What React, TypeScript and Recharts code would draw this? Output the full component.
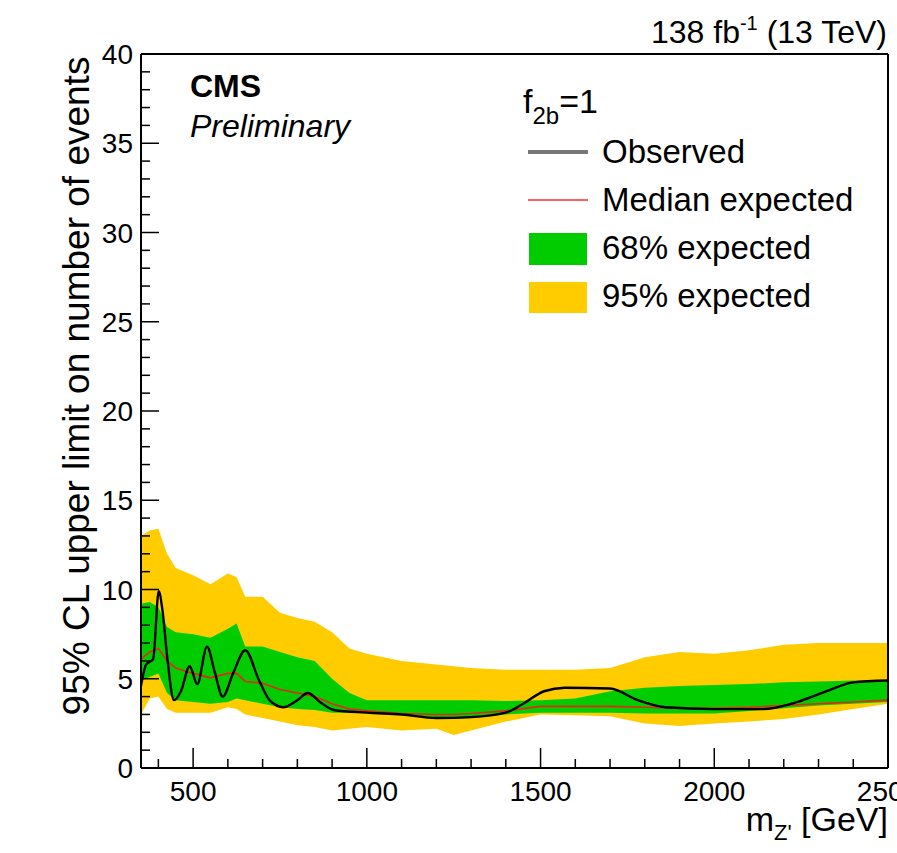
import { Area, ComposedChart, Line, XAxis, YAxis } from "recharts";

// expected-limit grid (GeV) and bands
const masses = [
  350, 375, 400, 425, 450, 500, 550, 600, 625, 650, 700, 750, 800, 850, 900, 950, 1000, 1100, 1200, 1250,
  1300, 1400, 1500, 1600, 1700, 1800, 1900, 2000, 2100, 2200, 2300, 2400, 2500,
];
const exp95Hi = [
  13.0, 13.3, 13.4, 12.0, 11.2, 10.8, 10.3, 10.9, 10.7, 9.6, 9.6, 8.7, 8.4, 8.2, 7.6, 6.7, 6.4, 6.0, 5.8, 5.7,
  5.6, 5.5, 5.5, 5.5, 5.6, 6.2, 6.5, 6.4, 6.6, 6.9, 7.0, 7.0, 7.0,
];
const exp68Hi = [
  9.2, 9.3, 9.0, 7.9, 7.6, 7.5, 7.3, 7.8, 8.1, 6.8, 6.8, 6.5, 6.2, 6.0, 5.0, 4.2, 3.8, 3.8, 3.8, 3.8,
  3.8, 3.75, 3.8, 3.9, 4.3, 4.5, 4.6, 4.65, 4.7, 4.8, 4.85, 4.9, 4.9,
];
const exp68Lo = [
  4.9, 5.1, 5.3, 4.2, 3.8, 3.7, 3.6, 3.7, 3.9, 3.8, 3.6, 3.4, 3.3, 3.25, 3.1, 3.1, 3.05, 3.0, 2.8, 2.75,
  2.8, 3.0, 3.1, 3.1, 3.1, 3.05, 3.05, 3.05, 3.2, 3.35, 3.5, 3.6, 3.7,
];
const exp95Lo = [
  3.0, 3.9, 4.0, 3.3, 3.1, 3.1, 3.1, 3.4, 3.3, 3.0, 2.8, 2.6, 2.4, 2.3, 2.1, 2.2, 2.3, 2.1, 2.2, 1.85,
  2.1, 2.6, 3.0, 2.95, 2.9, 2.5, 2.35, 2.5, 2.6, 2.75, 3.0, 3.3, 3.6,
];
const expMedian = [
  6.1, 6.5, 6.7, 6.0, 5.6, 5.3, 5.05, 5.3, 5.3, 4.85, 4.75, 4.4, 4.2, 4.0, 3.6, 3.3, 3.2, 3.05, 3.0, 3.0,
  3.05, 3.2, 3.45, 3.45, 3.45, 3.4, 3.35, 3.35, 3.4, 3.5, 3.6, 3.7, 3.8,
];

// observed limit
const obsMass = [
  350, 365, 385, 401, 412, 425, 445, 465, 490, 512, 540, 562, 585, 615, 650, 690, 720, 760, 800, 830,
  865, 905, 1000, 1100, 1200, 1300, 1400, 1450, 1510, 1570, 1700, 1780, 1860, 2000, 2140, 2240, 2330, 2400, 2500,
];
const obsLimit = [
  4.6, 5.8, 6.1, 9.9, 8.8, 6.3, 3.8, 4.3, 5.7, 4.7, 6.8, 5.4, 4.0, 5.3, 6.6, 4.9, 3.8, 3.4, 3.8, 4.2,
  3.7, 3.25, 3.1, 3.0, 2.8, 2.85, 3.1, 3.6, 4.3, 4.5, 4.45, 3.8, 3.4, 3.3, 3.3, 3.7, 4.35, 4.8, 4.9,
];

const xTicks = Array.from({ length: 22 }, (_, i) => 400 + i * 100);
const yTicks = Array.from({ length: 41 }, (_, i) => i);

const FONT = "'Liberation Sans', Arial, Helvetica, sans-serif";

const bandData = masses.map((m, i) => ({
  m,
  band95: [exp95Lo[i], exp95Hi[i]],
  band68: [exp68Lo[i], exp68Hi[i]],
  median: expMedian[i],
}));
const obsData = obsMass.map((m, i) => ({ m, obs: obsLimit[i] }));

function LeftTick({ x, y, payload }: any) {
  const major = payload.value % 5 === 0;
  return (
    <g>
      <line x1={x} x2={x + (major ? 18 : 9)} y1={y} y2={y} stroke="#000" strokeWidth={1.5} />
      {major ? (
        <text x={x - 8} y={y + 10} textAnchor="end" fontSize={28} fontFamily={FONT} fill="#000">
          {payload.value}
        </text>
      ) : null}
    </g>
  );
}

function RightTick({ x, y, payload }: any) {
  const major = payload.value % 5 === 0;
  return <line x1={x} x2={x - (major ? 18 : 9)} y1={y} y2={y} stroke="#000" strokeWidth={1.5} />;
}

function BottomTick({ x, y, payload }: any) {
  const major = payload.value % 500 === 0;
  return (
    <g>
      <line x1={x} x2={x} y1={y} y2={y - (major ? 20 : 9)} stroke="#000" strokeWidth={1.5} />
      {major ? (
        <text x={x} y={y + 33} textAnchor="middle" fontSize={28} fontFamily={FONT} fill="#000">
          {payload.value}
        </text>
      ) : null}
    </g>
  );
}

export default function App() {
  return (
    <div style={{ position: "absolute", left: 0, top: 0, width: 897, height: 853, background: "#fff" }}>
      <ComposedChart width={897} height={853} margin={{ top: 0, right: 0, bottom: 0, left: 0 }}>
        <XAxis
          dataKey="m"
          type="number"
          domain={[350, 2500]}
          ticks={xTicks}
          interval={0}
          height={85}
          tickSize={0}
          tickMargin={0}
          tickLine={false}
          tick={<BottomTick />}
          axisLine={{ stroke: "#000", strokeWidth: 2 }}
          allowDataOverflow
        />
        <XAxis
          xAxisId="top"
          orientation="top"
          type="number"
          domain={[350, 2500]}
          height={54}
          tick={false}
          tickLine={false}
          axisLine={{ stroke: "#000", strokeWidth: 2 }}
        />
        <YAxis
          type="number"
          domain={[0, 40]}
          ticks={yTicks}
          interval={0}
          width={141}
          tickSize={0}
          tickMargin={0}
          tickLine={false}
          tick={<LeftTick />}
          axisLine={{ stroke: "#000", strokeWidth: 2 }}
        />
        <YAxis
          yAxisId="right"
          orientation="right"
          type="number"
          domain={[0, 40]}
          ticks={yTicks}
          interval={0}
          width={9}
          tickSize={0}
          tickMargin={0}
          tickLine={false}
          tick={<RightTick />}
          axisLine={{ stroke: "#000", strokeWidth: 2 }}
        />
        <Area
          data={bandData}
          dataKey="band95"
          type="linear"
          stroke="none"
          fill="#ffcc00"
          fillOpacity={1}
          isAnimationActive={false}
        />
        <Area
          data={bandData}
          dataKey="band68"
          type="linear"
          stroke="none"
          fill="#00cc00"
          fillOpacity={1}
          isAnimationActive={false}
        />
        <Line
          data={bandData}
          dataKey="median"
          type="linear"
          stroke="#e8241c"
          strokeWidth={1.6}
          dot={false}
          isAnimationActive={false}
        />
        <Line
          data={obsData}
          dataKey="obs"
          type="monotone"
          stroke="#000"
          strokeWidth={2.4}
          dot={false}
          isAnimationActive={false}
        />
      </ComposedChart>

      <svg
        width={897}
        height={853}
        style={{ position: "absolute", left: 0, top: 0, pointerEvents: "none" }}
        fontFamily={FONT}
      >
        <text x={887} y={43} textAnchor="end" fontSize={32}>
          138 fb
          <tspan fontSize={20} dy={-13}>-1</tspan>
          <tspan dy={13}> (13 TeV)</tspan>
        </text>
        <text x={190} y={97} fontSize={32} fontWeight="bold">
          CMS
        </text>
        <text x={190} y={137} fontSize={32} fontStyle="italic">
          Preliminary
        </text>

        <text x={523} y={113} fontSize={34}>
          f
          <tspan fontSize={24} dy={11}>2b</tspan>
          <tspan dy={-11}>=1</tspan>
        </text>
        <line x1={528} x2={588} y1={152} y2={152} stroke="#777" strokeWidth={4} />
        <text x={602} y={163} fontSize={33}>Observed</text>
        <line x1={528} x2={588} y1={200} y2={200} stroke="#ff6060" strokeWidth={2} />
        <text x={602} y={211} fontSize={33}>Median expected</text>
        <rect x={529} y={233} width={58} height={32} fill="#00cc00" />
        <text x={602} y={259} fontSize={33}>68% expected</text>
        <rect x={529} y={282} width={58} height={31} fill="#ffcc00" />
        <text x={602} y={307} fontSize={33}>95% expected</text>

        <text x={888} y={831} textAnchor="end" fontSize={34}>
          m
          <tspan fontSize={22} dy={9}>Z'</tspan>
          <tspan dy={-9}> [GeV]</tspan>
        </text>
        <text transform="translate(89,386) rotate(-90)" textAnchor="middle" fontSize={37}>
          95% CL upper limit on number of events
        </text>
      </svg>
    </div>
  );
}
